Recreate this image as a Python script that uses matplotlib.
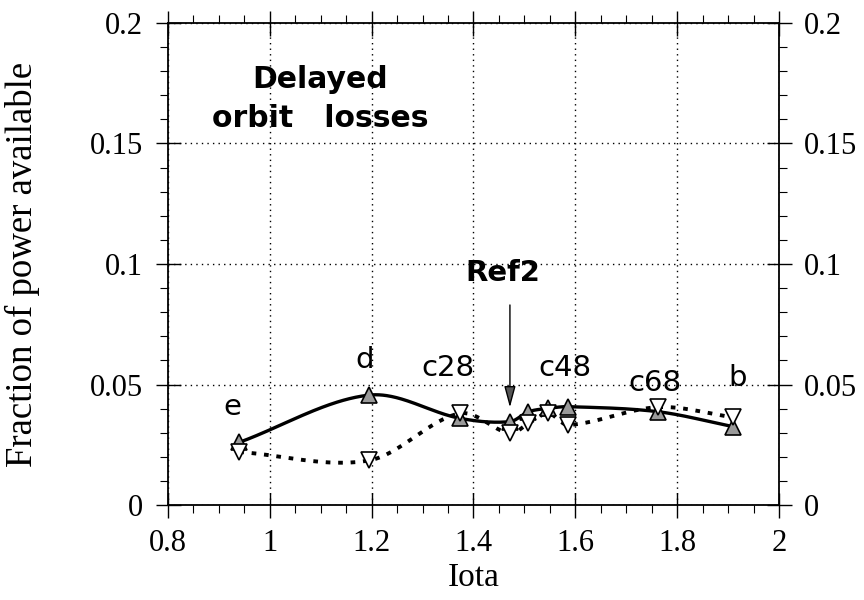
import numpy as np
import matplotlib
matplotlib.use("Agg")
import matplotlib.pyplot as plt
from matplotlib.ticker import MultipleLocator

# iota of each configuration
iota = [0.94, 1.195, 1.373, 1.472, 1.508, 1.547, 1.586, 1.763, 1.91]
# fraction of power available, two cases
frac_solid = [0.026, 0.0456, 0.036, 0.0346, 0.0387, 0.0401, 0.0408, 0.0387, 0.0325]
frac_open = [0.022, 0.0185, 0.038, 0.0297, 0.0339, 0.038, 0.0332, 0.0406, 0.0364]

# configuration names and where they are written
config_names = ["e", "d", "c28", "c48", "c68", "b"]
name_x = [0.926, 1.187, 1.350, 1.580, 1.756, 1.919]
name_y = [0.0407, 0.0602, 0.0568, 0.0568, 0.0506, 0.0527]

x_ticks = [0.8, 1, 1.2, 1.4, 1.6, 1.8, 2]
y_ticks = [0, 0.05, 0.1, 0.15, 0.2]


def smooth_curve(x, y, n=400):
    # cubic Hermite curve through the points, tangents from neighbours
    x = np.asarray(x, float)
    y = np.asarray(y, float)
    m = np.empty_like(y)
    m[1:-1] = (y[2:] - y[:-2]) / (x[2:] - x[:-2])
    m[0] = (y[1] - y[0]) / (x[1] - x[0])
    m[-1] = (y[-1] - y[-2]) / (x[-1] - x[-2])
    xs = np.linspace(x[0], x[-1], n)
    k = np.clip(np.searchsorted(x, xs) - 1, 0, len(x) - 2)
    h = x[k + 1] - x[k]
    t = (xs - x[k]) / h
    h00 = 2 * t ** 3 - 3 * t ** 2 + 1
    h10 = t ** 3 - 2 * t ** 2 + t
    h01 = -2 * t ** 3 + 3 * t ** 2
    h11 = t ** 3 - t ** 2
    ys = h00 * y[k] + h10 * h * m[k] + h01 * y[k + 1] + h11 * h * m[k + 1]
    return xs, ys


serif = "Liberation Serif"
sans = "DejaVu Sans"

fig = plt.figure(figsize=(8.64, 6.0), dpi=100)
ax = fig.add_axes([0.1944, 0.1583, 0.7072, 0.8034])

xs, ys = smooth_curve(iota, frac_open)
ax.plot(xs, ys, color="black", lw=2.8, linestyle=(0, (1.2, 2.0)), zorder=3)
xs, ys = smooth_curve(iota, frac_solid)
ax.plot(xs, ys, color="black", lw=2.4, zorder=4)

ax.plot(iota, frac_solid, linestyle="none", marker="^", ms=11,
        mfc="#9a9a9a", mec="black", mew=1.2, zorder=5)
ax.plot(iota, frac_open, linestyle="none", marker="v", ms=12,
        mfc="white", mec="black", mew=1.2, zorder=6)

for name, tx, ty in zip(config_names, name_x, name_y):
    ax.text(tx, ty, name, fontsize=21, family=sans, ha="center", va="center")

ax.text(1.0985, 0.1685, "Delayed\norbit   losses", fontsize=21.5, family=sans,
        fontweight="bold", ha="center", va="center", linespacing=1.4)
ax.text(1.458, 0.0963, "Ref2", fontsize=21, family=sans, fontweight="bold",
        ha="center", va="center")
ax.annotate("", xy=(1.4716, 0.0405), xytext=(1.4716, 0.083),
            arrowprops=dict(arrowstyle="-|>,head_length=1.3,head_width=0.35",
                            facecolor="#555555", edgecolor="black", lw=1.0,
                            shrinkA=0, shrinkB=0),
            zorder=7)

ax.set_xlim(0.8, 2)
ax.set_ylim(0, 0.2)
ax.set_xticks(x_ticks)
ax.set_yticks(y_ticks)
ax.set_xticklabels([f"{v:g}" for v in x_ticks])
ax.set_yticklabels([f"{v:g}" for v in y_ticks])
ax.xaxis.set_minor_locator(MultipleLocator(0.05))
ax.yaxis.set_minor_locator(MultipleLocator(0.01))
ax.grid(True, which="major", color="black", linestyle=(0, (1, 3)), lw=1.0)

ax.tick_params(which="major", direction="inout", length=18, width=1.0,
               top=True, right=True, labelright=True, labelsize=22)
ax.tick_params(axis="x", which="major", pad=8)
ax.tick_params(axis="y", which="major", pad=9)
ax.tick_params(which="minor", direction="out", length=6, width=0.8,
               top=True, right=True)
for lbl in ax.get_xticklabels() + ax.get_yticklabels():
    lbl.set_family(serif)
for t in ax.yaxis.get_major_ticks():
    t.label2.set_family(serif)
for sp in ax.spines.values():
    sp.set_linewidth(1.3)

ax.set_xlabel("Iota", fontsize=24, family=serif)
ax.set_ylabel("Fraction of power available", fontsize=26.5, family=serif)
ax.xaxis.set_label_coords(0.5, -0.12)
ax.yaxis.set_label_coords(-0.21, 0.5)

fig.savefig("out.png", dpi=100)
